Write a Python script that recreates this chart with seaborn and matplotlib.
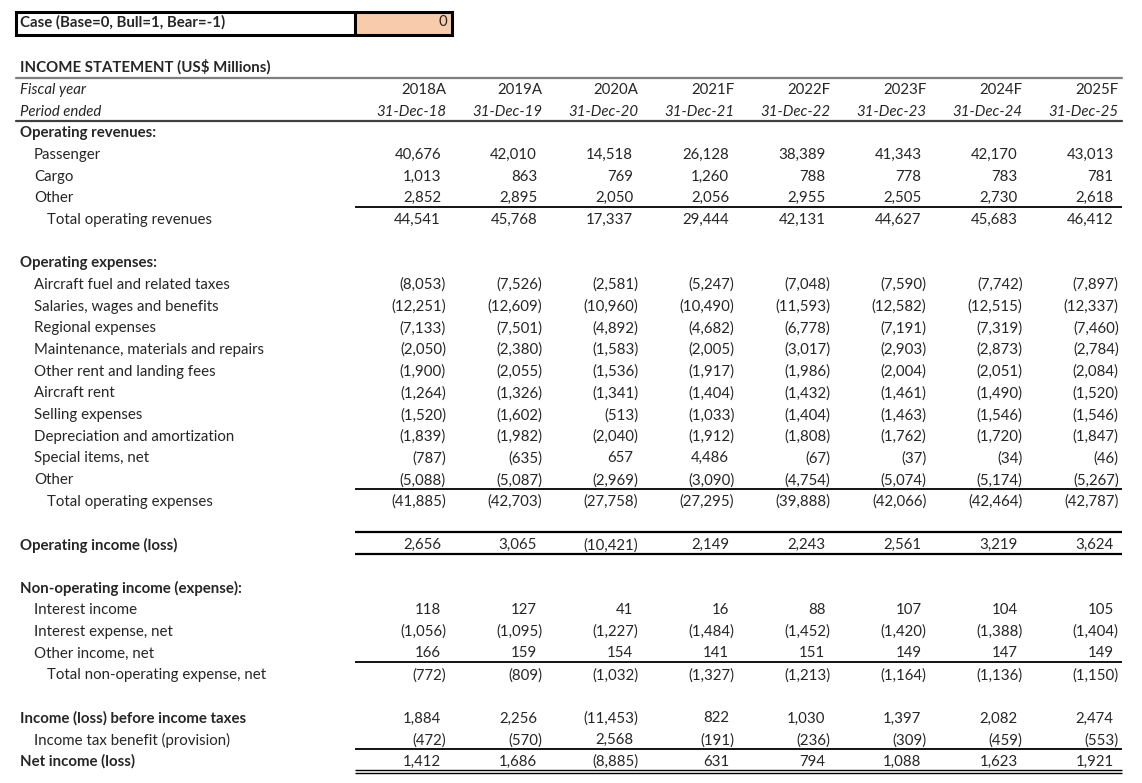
import matplotlib
matplotlib.use("Agg")
import matplotlib.pyplot as plt
import seaborn as sns
from matplotlib.patches import Rectangle

years = ["2018A", "2019A", "2020A", "2021F", "2022F", "2023F", "2024F", "2025F"]
periods = ["31-Dec-18", "31-Dec-19", "31-Dec-20", "31-Dec-21",
           "31-Dec-22", "31-Dec-23", "31-Dec-24", "31-Dec-25"]
case_value = 0

passenger = [40676, 42010, 14518, 26128, 38389, 41343, 42170, 43013]
cargo = [1013, 863, 769, 1260, 788, 778, 783, 781]
other_rev = [2852, 2895, 2050, 2056, 2955, 2505, 2730, 2618]
total_rev = [44541, 45768, 17337, 29444, 42131, 44627, 45683, 46412]

fuel = [-8053, -7526, -2581, -5247, -7048, -7590, -7742, -7897]
salaries = [-12251, -12609, -10960, -10490, -11593, -12582, -12515, -12337]
regional = [-7133, -7501, -4892, -4682, -6778, -7191, -7319, -7460]
maintenance = [-2050, -2380, -1583, -2005, -3017, -2903, -2873, -2784]
other_rent = [-1900, -2055, -1536, -1917, -1986, -2004, -2051, -2084]
aircraft_rent = [-1264, -1326, -1341, -1404, -1432, -1461, -1490, -1520]
selling = [-1520, -1602, -513, -1033, -1404, -1463, -1546, -1546]
dep_amort = [-1839, -1982, -2040, -1912, -1808, -1762, -1720, -1847]
special = [-787, -635, 657, 4486, -67, -37, -34, -46]
other_exp = [-5088, -5087, -2969, -3090, -4754, -5074, -5174, -5267]
total_exp = [-41885, -42703, -27758, -27295, -39888, -42066, -42464, -42787]

op_income = [2656, 3065, -10421, 2149, 2243, 2561, 3219, 3624]

interest_income = [118, 127, 41, 16, 88, 107, 104, 105]
interest_expense = [-1056, -1095, -1227, -1484, -1452, -1420, -1388, -1404]
other_income = [166, 159, 154, 141, 151, 149, 147, 149]
total_nonop = [-772, -809, -1032, -1327, -1213, -1164, -1136, -1150]

pretax = [1884, 2256, -11453, 822, 1030, 1397, 2082, 2474]
tax = [-472, -570, 2568, -191, -236, -309, -459, -553]
net_income = [1412, 1686, -8885, 631, 794, 1088, 1623, 1921]

# (libellé, valeurs, style)
rows = [
    ("Operating revenues:", None, "head"),
    ("Passenger", passenger, "item"),
    ("Cargo", cargo, "item"),
    ("Other", other_rev, "item"),
    ("Total operating revenues", total_rev, "total"),
    (None, None, None),
    ("Operating expenses:", None, "head"),
    ("Aircraft fuel and related taxes", fuel, "item"),
    ("Salaries, wages and benefits", salaries, "item"),
    ("Regional expenses", regional, "item"),
    ("Maintenance, materials and repairs", maintenance, "item"),
    ("Other rent and landing fees", other_rent, "item"),
    ("Aircraft rent", aircraft_rent, "item"),
    ("Selling expenses", selling, "item"),
    ("Depreciation and amortization", dep_amort, "item"),
    ("Special items, net", special, "item"),
    ("Other", other_exp, "item"),
    ("Total operating expenses", total_exp, "total"),
    (None, None, None),
    ("Operating income (loss)", op_income, "bold"),
    (None, None, None),
    ("Non-operating income (expense):", None, "head"),
    ("Interest income", interest_income, "item"),
    ("Interest expense, net", interest_expense, "item"),
    ("Other income, net", other_income, "item"),
    ("Total non-operating expense, net", total_nonop, "total"),
    (None, None, None),
    ("Income (loss) before income taxes", pretax, "bold"),
    ("Income tax benefit (provision)", tax, "item"),
    ("Net income (loss)", net_income, "bold"),
]

sns.set_theme(style="white")
plt.rcParams["font.family"] = ["Lato", "DejaVu Sans"]
FS = 10.8
TY = 2.0  # décalage vertical du texte dans la cellule

fig = plt.figure(figsize=(11.42, 7.83), dpi=100)
ax = fig.add_axes([0, 0, 1, 1])
ax.set_xlim(0, 1142)
ax.set_ylim(783, 0)
ax.axis("off")

y0, dy = 88, 21.67
col_right = [446 + 96.1 * i for i in range(len(years))]
x_line0, x_line1 = 355, 1122


def row_y(k):
    return y0 + dy * k


def fmt(v):
    return f"({abs(v):,})" if v < 0 else f"{v:,}"


# cellule du scénario
ax.add_patch(Rectangle((355, 12), 97, 23, facecolor="#F8CBAD", edgecolor="none"))
ax.add_patch(Rectangle((16, 12), 436, 23, facecolor="none", edgecolor="black", lw=2.2))
ax.plot([355, 355], [12, 35], color="black", lw=2.2)
ax.text(20, 22, "Case (Base=0, Bull=1, Bear=-1)", fontsize=FS,
        fontweight="bold", va="center", ha="left")
ax.text(447, 22, str(case_value), fontsize=FS, va="center", ha="right")

# titre et en-têtes
ax.text(20, 67, "INCOME STATEMENT (US$ Millions)", fontsize=FS, fontweight="bold",
        va="center")
ax.plot([16, x_line1], [77.5, 77.5], color="#7f7f7f", lw=1.6)
ax.text(20, row_y(0) + TY, "Fiscal year", fontsize=FS, style="italic", va="center")
ax.text(20, row_y(1) + TY, "Period ended", fontsize=FS, style="italic", va="center")
for i, (yr, pe) in enumerate(zip(years, periods)):
    ax.text(col_right[i], row_y(0) + TY, yr, fontsize=FS, ha="right", va="center")
    ax.text(col_right[i], row_y(1) + TY, pe, fontsize=FS, style="italic",
            ha="right", va="center")
ax.plot([16, x_line1], [121, 121], color="#404040", lw=1.6)

indent = {"head": 20, "bold": 20, "item": 34, "total": 47}
for k, (label, vals, kind) in enumerate(rows, start=2):
    if label is None:
        continue
    y = row_y(k) + TY
    weight = "bold" if kind in ("head", "bold") else "normal"
    ax.text(indent[kind], y, label, fontsize=FS, fontweight=weight, va="center")
    if vals is None:
        continue
    for i, v in enumerate(vals):
        x = col_right[i] if v < 0 else col_right[i] - 5
        ax.text(x, y, fmt(v), fontsize=FS, ha="right", va="center")


# filets de sous-total
def hline(k, lw=1.3):
    ax.plot([x_line0, x_line1], [row_y(k), row_y(k)], color="black", lw=lw,
            solid_capstyle="butt")


hline(5.5)
hline(18.5)
hline(20.5, lw=1.6)
hline(21.5, lw=1.6)
hline(26.5)
hline(30.5)
ax.plot([x_line0, x_line1], [769.5, 769.5], color="black", lw=1.0, solid_capstyle="butt")
ax.plot([x_line0, x_line1], [773, 773], color="black", lw=1.0, solid_capstyle="butt")

fig.savefig("out.png", dpi=100, facecolor="white")
